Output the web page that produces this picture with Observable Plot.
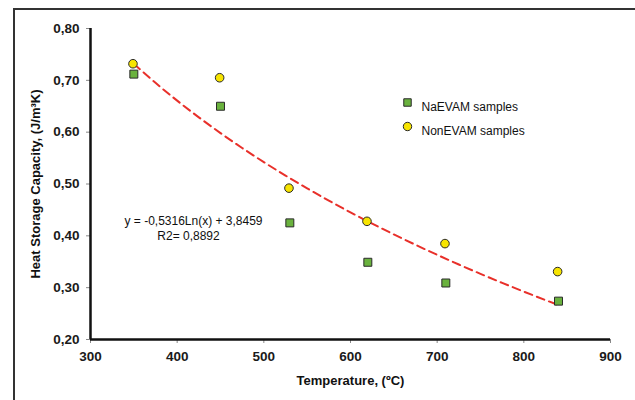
<!DOCTYPE html>
<html>
<head>
<meta charset="utf-8">
<script src="https://cdn.jsdelivr.net/npm/d3@7"></script>
<script src="https://cdn.jsdelivr.net/npm/@observablehq/plot@0.6"></script>
<style>
  html, body { margin: 0; padding: 0; background: #fff; }
  #wrap { position: relative; width: 635px; height: 400px; overflow: hidden; }
  #frame { position: absolute; left: 13px; top: 8px; right: -4px; bottom: -4px;
           border-top: 2px solid #333; border-left: 2px solid #333; }
  #chart { position: absolute; left: 0; top: 0; }
  svg { font-family: "Liberation Sans", Arial, sans-serif; }
</style>
</head>
<body>
<div id="wrap"><div id="frame"></div><div id="chart"></div></div>
<script>
// Data
const naTemps   = [350, 450, 530, 620, 710, 840];
const naValues  = [0.712, 0.650, 0.425, 0.349, 0.309, 0.274];
const nonTemps  = [349, 449, 529, 619, 709, 839];
const nonValues = [0.732, 0.705, 0.492, 0.428, 0.385, 0.331];

// Logarithmic trendline as printed on the chart: y = a*ln(x) + b
const trendA = -0.5316;
const trendB = 3.8459;
const trendX = [350, 375, 400, 425, 450, 475, 500, 525, 550, 575, 600, 625, 650, 675, 700, 725, 750, 775, 800, 825, 840];

const xTicks = [300, 400, 500, 600, 700, 800, 900];
const yTicks = [0.2, 0.3, 0.4, 0.5, 0.6, 0.7, 0.8];

const legendLabels = ["NaEVAM samples", "NonEVAM samples"];
const eqText = "y = -0,5316Ln(x) + 3,8459";
const r2Text = "R2= 0,8892";
const xTitle = "Temperature, (ºC)";
const yTitle = "Heat Storage Capacity, (J/m³K)";

const na = naTemps.map((t, i) => ({t, v: naValues[i]}));
const non = nonTemps.map((t, i) => ({t, v: nonValues[i]}));
const trend = trendX.map(t => ({t, v: trendA * Math.log(t) + trendB}));

const fmt = d => d.toFixed(2).replace(".", ",");

const chart = Plot.plot({
  width: 635,
  height: 400,
  marginLeft: 90,
  marginRight: 25,
  marginTop: 28,
  marginBottom: 61,
  style: {fontFamily: "Liberation Sans, Arial, sans-serif", background: "transparent"},
  x: {domain: [300, 900]},
  y: {domain: [0.2, 0.8]},
  marks: [
    Plot.axisX({ticks: xTicks, tickSize: 4, tickPadding: 8, fontSize: 13.5, fontWeight: "bold", label: null, stroke: "#888", color: "#1a1a1a"}),
    Plot.axisY({ticks: yTicks, tickSize: 4, tickPadding: 7, fontSize: 13.5, fontWeight: "bold", tickFormat: fmt, label: null, stroke: "#888", color: "#1a1a1a"}),
    Plot.ruleX([300], {y1: 0.2, y2: 0.8, stroke: "#111", strokeWidth: 2.5}),
    Plot.ruleY([0.2], {x1: 300, x2: 900, stroke: "#111", strokeWidth: 2.5}),
    Plot.line(trend, {x: "t", y: "v", stroke: "#e8302a", strokeWidth: 2, strokeDasharray: "8,5", curve: "monotone-x"}),
    Plot.dot(na, {x: "t", y: "v", symbol: "square", r: 4.5, fill: "#6ab23e", stroke: "#2a2a2a", strokeWidth: 1}),
    Plot.dot(non, {x: "t", y: "v", symbol: "circle", r: 4.3, fill: "#f7e400", stroke: "#2a2a2a", strokeWidth: 1}),
    // legend
    Plot.dot([legendLabels[0]], {frameAnchor: "top-left", dx: 317, dy: 74, symbol: "square", r: 4.2, fill: "#6ab23e", stroke: "#2a2a2a", strokeWidth: 1}),
    Plot.dot([legendLabels[1]], {frameAnchor: "top-left", dx: 317, dy: 98, symbol: "circle", r: 4.2, fill: "#f7e400", stroke: "#2a2a2a", strokeWidth: 1}),
    Plot.text([legendLabels[0]], {frameAnchor: "top-left", dx: 331, dy: 74, text: d => d, textAnchor: "start", fontSize: 12, fill: "#111"}),
    Plot.text([legendLabels[1]], {frameAnchor: "top-left", dx: 331, dy: 98, text: d => d, textAnchor: "start", fontSize: 12, fill: "#111"}),
    // equation
    Plot.text([eqText], {frameAnchor: "top-left", dx: 103, dy: 188, text: d => d, textAnchor: "middle", fontSize: 12, fill: "#111"}),
    Plot.text([r2Text], {frameAnchor: "top-left", dx: 98, dy: 203, text: d => d, textAnchor: "middle", fontSize: 12, fill: "#111"}),
    // axis titles
    Plot.text([xTitle], {frameAnchor: "bottom", dy: 45, text: d => d, fontSize: 13, fontWeight: "bold", fill: "#111"}),
    Plot.text([yTitle], {frameAnchor: "left", dx: -55, text: d => d, rotate: -90, textAnchor: "middle", fontSize: 13, fontWeight: "bold", fill: "#111"})
  ]
});
document.getElementById("chart").appendChild(chart);
</script>
</body>
</html>
